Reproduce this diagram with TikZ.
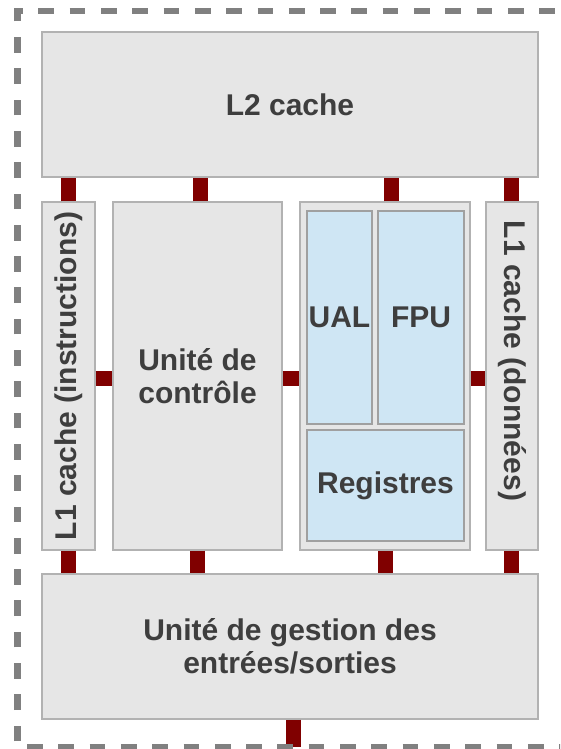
\documentclass[tikz,border=0pt]{standalone}
\usepackage{fontspec}
\setmainfont{Liberation Sans}
\definecolor{boxgray}{RGB}{230,230,230}
\definecolor{edgegray}{RGB}{178,178,178}
\definecolor{unitblue}{RGB}{207,230,244}
\definecolor{busred}{RGB}{128,0,0}
\definecolor{ink}{RGB}{62,62,62}
\begin{document}
\begin{tikzpicture}
		[x=1pt, y=-1pt,
		block/.style={draw=edgegray, fill=boxgray, line width=1.2pt, inner sep=0pt, text=ink,
			font=\fontsize{30pt}{33pt}\selectfont\bfseries, align=center},
		unit/.style={block, fill=unitblue, draw=edgegray!90!black},
		label/.style={text=ink, font=\fontsize{30pt}{33pt}\selectfont\bfseries},
		bus/.style={draw=busred, line width=15pt},
		frame/.style={draw=gray, line width=6.5pt, dash pattern=on 15.7pt off 15.6pt}]
	\useasboundingbox (0,0) rectangle (560,749);
	\clip (0,0) rectangle (560,749);
	\node[block, minimum width=496pt, minimum height=145pt] (l2) at (290,104.5) {L2 cache};
	\node[block, minimum width=53pt, minimum height=348pt] (l1i) at (68.5,376) {};
	\node[block, minimum width=169pt, minimum height=348pt] (ctrl) at (197.5,376) {Unité de\\contrôle};
	\node[block, minimum width=170pt, minimum height=348pt] (exec) at (385,376) {};
	\node[block, minimum width=52pt, minimum height=348pt] (l1d) at (512,376) {};
	\node[unit, minimum width=65pt, minimum height=213pt] (ual) at (339.5,317.5) {UAL};
	\node[unit, minimum width=86pt, minimum height=213pt] (fpu) at (421,317.5) {FPU};
	\node[unit, minimum width=157pt, minimum height=111pt] (reg) at (385.5,485.5) {Registres};
	\node[block, minimum width=496pt, minimum height=145pt] (io) at (290,646.5) {Unité de gestion des\\entrées/sorties};
	\node[label, rotate=90] (l1itext) at (l1i.center) {L1 cache (instructions)};
	\node[label, rotate=-90] (l1dtext) at ([yshift=15pt]l1d.center) {L1 cache (données)};
	\foreach \n/\dx in {l1i/0, ctrl/3, exec/6.5, l1d/-0.5}
		\draw[bus] ([xshift=\dx pt]\n.north) -- ([xshift=\dx pt]\n.north |- l2.south);
	\foreach \n/\dx in {l1i/0, ctrl/0, exec/0.5, l1d/-0.5}
		\draw[bus] ([xshift=\dx pt]\n.south) -- ([xshift=\dx pt]\n.south |- io.north);
	\foreach \a/\b in {l1i/ctrl, ctrl/exec, exec/l1d}
		\draw[bus] ([yshift=-2.5pt]\a.east) -- ([yshift=-2.5pt]\a.east -| \b.west);
	\coordinate (iobus) at (293.5,747);
	\draw[bus] (io.south -| iobus) -- (iobus);
	\draw[frame, dash phase=25.6pt] (17.5,747) -- (17.5,11) -- (580,11);
	\draw[frame, dash phase=21.8pt] (17.5,747) -- (580,747);
\end{tikzpicture}
\end{document}
